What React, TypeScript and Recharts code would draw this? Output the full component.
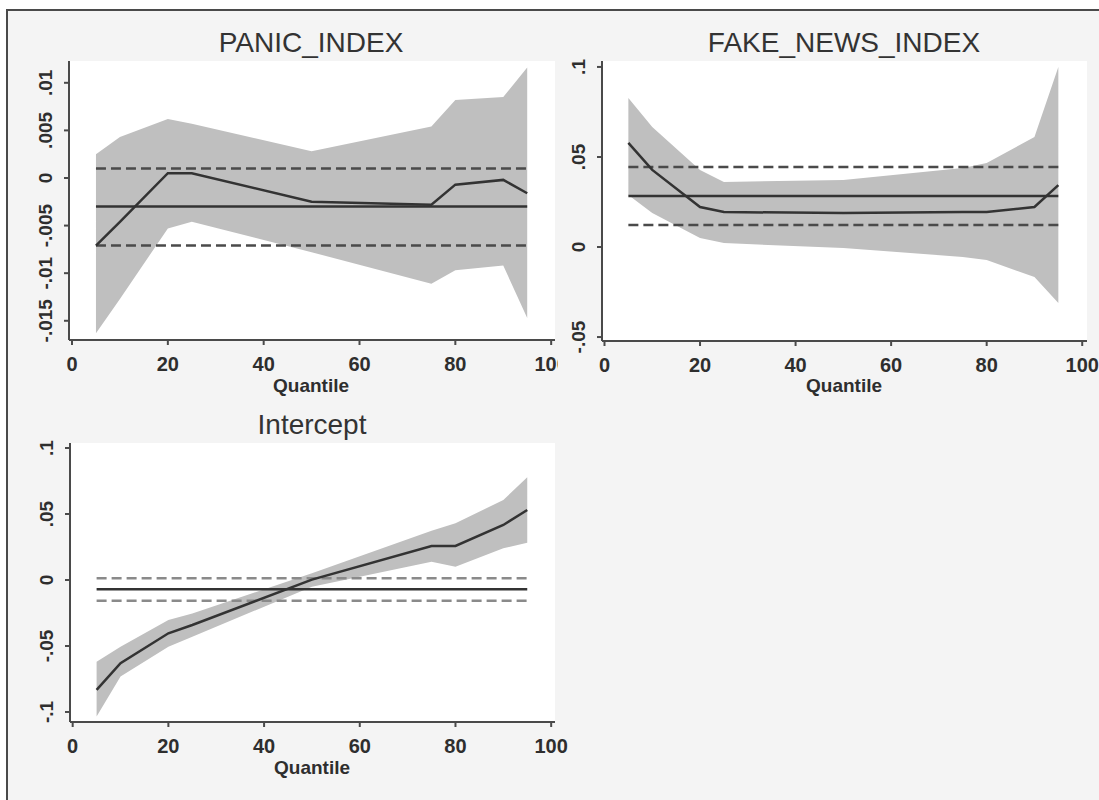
import React from 'react';
import { ComposedChart, Area, Line, XAxis, YAxis, ReferenceLine } from 'recharts';

const quantiles = [5, 10, 20, 25, 50, 75, 80, 90, 95];

// PANIC_INDEX
const panicCoef = [-0.0071, -0.0046, 0.0005, 0.0005, -0.0025, -0.0028, -0.0007, -0.0002, -0.0016];
const panicLo = [-0.0163, -0.0127, -0.0053, -0.0046, -0.0078, -0.0111, -0.0097, -0.0092, -0.0147];
const panicHi = [0.0025, 0.0043, 0.0062, 0.0057, 0.0028, 0.0054, 0.0082, 0.0085, 0.0116];
const panicOls = [-0.0071, -0.003, 0.001]; // lo, estimate, hi
const panicTicks = [-0.015, -0.01, -0.005, 0, 0.005, 0.01];

// FAKE_NEWS_INDEX
const fakeCoef = [0.0578, 0.0428, 0.0222, 0.0194, 0.0189, 0.0194, 0.0194, 0.0222, 0.0344];
const fakeLo = [0.0289, 0.0189, 0.005, 0.0022, -0.0006, -0.0055, -0.0072, -0.0167, -0.0311];
const fakeHi = [0.0828, 0.0667, 0.0428, 0.0361, 0.0372, 0.0439, 0.0467, 0.0611, 0.1];
const fakeOls = [0.0122, 0.0283, 0.0444];
const fakeTicks = [-0.05, 0, 0.05, 0.1];

// Intercept
const interCoef = [-0.0833, -0.0631, -0.0404, -0.0341, 0.0003, 0.0258, 0.0258, 0.0417, 0.053];
const interLo = [-0.1035, -0.0732, -0.0505, -0.043, -0.0051, 0.0139, 0.0101, 0.024, 0.0283];
const interHi = [-0.0619, -0.0505, -0.0303, -0.0253, 0.0051, 0.0374, 0.043, 0.0606, 0.0778];
const interOls = [-0.0157, -0.0071, 0.0013];
const interTicks = [-0.1, -0.05, 0, 0.05, 0.1];

const xTicks = [0, 20, 40, 60, 80, 100];

const FONT = '"Liberation Sans", Arial, Helvetica, sans-serif';
const AXIS = '#4a4a4a';

const fmt = (v: number) => {
  if (v === 0) return '0';
  const s = String(Math.abs(v)).replace(/^0/, '');
  return (v < 0 ? '-' : '') + s;
};

const XTick = (props: any) => {
  const { x, y, payload } = props;
  return (
    <text x={x} y={y + 19} textAnchor="middle" dominantBaseline="central"
      fontSize={20} fontWeight="bold" fill="#2e2e2e" fontFamily={FONT}>
      {payload.value}
    </text>
  );
};

const YTick = (props: any) => {
  const { x, y, payload } = props;
  const cx = x - 18;
  return (
    <text x={cx} y={y} transform={`rotate(-90 ${cx} ${y})`} textAnchor="middle"
      dominantBaseline="central" fontSize={19} fontWeight="bold" fill="#2e2e2e" fontFamily={FONT}>
      {fmt(payload.value)}
    </text>
  );
};

interface PanelProps {
  title: string;
  coef: number[];
  lo: number[];
  hi: number[];
  ols: number[];
  yTicks: number[];
  xDomain: [number, number];
  yDomain: [number, number];
  box: { x0: number; x1: number; y0: number; y1: number };
  titleX: number;
  titleY: number;
  labelX: number;
  labelY: number;
  dashColor: string;
  right: number;
}

const Panel: React.FC<PanelProps> = ({ title, coef, lo, hi, ols, yTicks, xDomain, yDomain, box, titleX, titleY, labelX, labelY, dashColor, right }) => {
  const data = quantiles.map((q, i) => ({ q, coef: coef[i], band: [lo[i], hi[i]] }));
  const w = box.x1 - box.x0;
  const h = box.y1 - box.y0;
  const qMin = quantiles[0];
  const qMax = quantiles[quantiles.length - 1];
  return (
    <>
      <div style={{ position: 'absolute', left: box.x0, top: box.y0, width: w, height: h, background: '#fff' }} />
      <div style={{ position: 'absolute', left: titleX, top: titleY, transform: 'translate(-50%, -50%)', fontFamily: FONT, fontSize: 28, color: '#333', whiteSpace: 'nowrap' }}>
        {title}
      </div>
      <div style={{ position: 'absolute', left: labelX, top: labelY, transform: 'translate(-50%, -50%)', fontFamily: FONT, fontSize: 19, fontWeight: 'bold', color: '#2e2e2e', whiteSpace: 'nowrap' }}>
        Quantile
      </div>
      <div style={{ position: 'absolute', left: box.x0 - 60, top: box.y0 - 10 }}>
        <ComposedChart width={w + 60 + right} height={h + 70} data={data} margin={{ top: 10, right, bottom: 0, left: 0 }}>
          <XAxis dataKey="q" type="number" domain={xDomain} ticks={xTicks} allowDataOverflow
            height={60} tickSize={5} tickMargin={0} interval={0}
            axisLine={{ stroke: AXIS, strokeWidth: 2 }} tickLine={{ stroke: AXIS, strokeWidth: 2 }} tick={<XTick />} />
          <YAxis type="number" domain={yDomain} ticks={yTicks} allowDataOverflow
            width={60} tickSize={5} tickMargin={0} interval={0}
            axisLine={{ stroke: AXIS, strokeWidth: 2 }} tickLine={{ stroke: AXIS, strokeWidth: 2 }} tick={<YTick />} />
          <Area dataKey="band" type="linear" stroke="none" fill="#bfbfbf" fillOpacity={1} isAnimationActive={false} />
          <ReferenceLine segment={[{ x: qMin, y: ols[0] }, { x: qMax, y: ols[0] }]} stroke={dashColor} strokeWidth={2.5} strokeDasharray="10 5" ifOverflow="visible" />
          <ReferenceLine segment={[{ x: qMin, y: ols[2] }, { x: qMax, y: ols[2] }]} stroke={dashColor} strokeWidth={2.5} strokeDasharray="10 5" ifOverflow="visible" />
          <ReferenceLine segment={[{ x: qMin, y: ols[1] }, { x: qMax, y: ols[1] }]} stroke="#333" strokeWidth={2.5} ifOverflow="visible" />
          <Line dataKey="coef" type="linear" stroke="#333" strokeWidth={2.5} dot={false} isAnimationActive={false} />
        </ComposedChart>
      </div>
    </>
  );
};

export default function App() {
  return (
    <div style={{ position: 'absolute', left: 0, top: 0, width: 1099, height: 800, overflow: 'hidden', background: '#fff' }}>
      <div style={{ position: 'absolute', left: 6, top: 9, width: 1200, height: 900, border: '2px solid #4a4a4a', background: '#f4f4f4' }} />
      <Panel title="PANIC_INDEX" coef={panicCoef} lo={panicLo} hi={panicHi} ols={panicOls} yTicks={panicTicks}
        xDomain={[-0.63, 100.8]} yDomain={[-0.01702, 0.01229]} right={3}
        box={{ x0: 69, x1: 555, y0: 61, y1: 340 }} titleX={311} titleY={43} labelX={311} labelY={386} dashColor="#4a4a4a" />
      <Panel title="FAKE_NEWS_INDEX" coef={fakeCoef} lo={fakeLo} hi={fakeHi} ols={fakeOls} yTicks={fakeTicks}
        xDomain={[-0.52, 101.0]} yDomain={[-0.0522, 0.1033]} right={12}
        box={{ x0: 602, x1: 1087, y0: 61, y1: 341 }} titleX={844} titleY={43} labelX={844} labelY={386} dashColor="#4a4a4a" />
      <Panel title="Intercept" coef={interCoef} lo={interLo} hi={interHi} ols={interOls} yTicks={interTicks}
        xDomain={[-0.56, 100.8]} yDomain={[-0.1076, 0.1038]} right={30}
        box={{ x0: 70, x1: 555, y0: 443, y1: 722 }} titleX={312} titleY={425} labelX={312} labelY={768} dashColor="#8a8a8a" />
    </div>
  );
}
